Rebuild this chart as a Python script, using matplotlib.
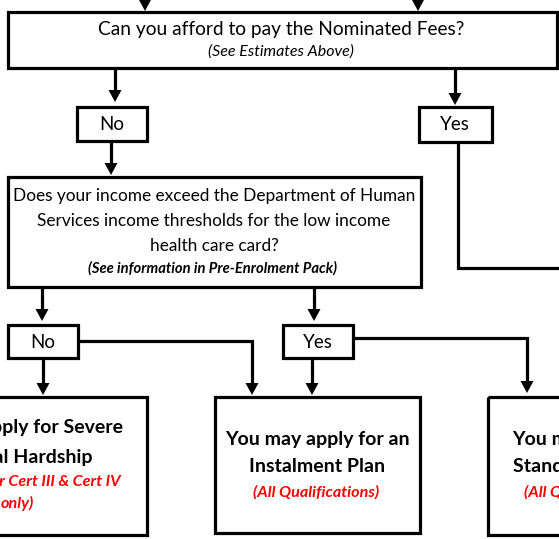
import matplotlib
matplotlib.use("Agg")
import matplotlib.pyplot as plt
from matplotlib.patches import Rectangle, Polygon

# ---- content ----
box_names = ["top", "no1", "yes1", "q2", "no2", "yes2", "left", "mid", "right"]
box_x0 = [8, 77, 419, 8, 8, 283, -20, 215, 488]
box_y0 = [12, 107, 107, 177, 325, 325, 397, 397, 397]
box_x1 = [557, 147, 492, 421, 78, 353, 147, 420, 620]
box_y1 = [68, 141, 142, 287, 358, 358, 535, 533, 535]

FONT = ["Lato", "DejaVu Sans"]
LW = 2.3
W, H = 559, 539

fig = plt.figure(figsize=(W / 100, H / 100), dpi=100)
ax = fig.add_axes([0, 0, 1, 1])
ax.set_xlim(0, W)
ax.set_ylim(H, 0)
ax.axis("off")

for x0, y0, x1, y1 in zip(box_x0, box_y0, box_x1, box_y1):
    ax.add_patch(Rectangle((x0, y0), x1 - x0, y1 - y0, fill=False, ec="black",
                           lw=LW, joinstyle="miter"))


def line(xs, ys):
    ax.plot(xs, ys, color="black", lw=LW, solid_capstyle="butt",
            solid_joinstyle="miter")


def arrow(xs, ys):
    hl, hw = 12, 6.5
    ys2 = list(ys)
    ys2[-1] = ys[-1] - hl + 1
    line(xs, ys2)
    x = xs[-1]
    t = ys[-1]
    ax.add_patch(Polygon([(x - hw, t - hl), (x + hw, t - hl), (x, t)],
                         closed=True, color="black", lw=0))


arrow([145, 145], [-5, 11])
arrow([418, 418], [-5, 11])
arrow([115, 115], [68, 102])
arrow([111, 111], [141, 175])
arrow([455, 455], [68, 105])
line([458, 458, 565], [142, 268, 268])
arrow([42, 42], [287, 321])
arrow([314, 314], [287, 321])
arrow([43, 43], [358, 395])
arrow([78, 252, 252], [341, 341, 395])
arrow([312, 312], [358, 395])
arrow([353, 527, 527], [338, 338, 393])


def txt(x, y, s, size, color="black", weight="normal", style="normal"):
    ax.text(x, y, s, ha="center", va="center", fontsize=size, color=color,
            fontweight=weight, fontstyle=style, family=FONT, clip_on=True)


txt(281, 30, "Can you afford to pay the Nominated Fees?", 13.8)
txt(281, 52, "(See Estimates Above)", 11.5, style="italic")
txt(112, 124, "No", 13.5)
txt(455, 124, "Yes", 13.5)
txt(214, 196, "Does your income exceed the Department of Human", 12.4)
txt(214, 221, "Services income thresholds for the low income", 12.4)
txt(214, 246, "health care card?", 12.4)
txt(213, 268, "(See information in Pre-Enrolment Pack)", 10.6, weight="bold", style="italic")
txt(43, 342, "No", 13.5)
txt(318, 342, "Yes", 13.5)

red = "#ff0000"
txt(12, 428, "You may apply for Severe", 14, weight="bold")
txt(12, 457, "Financial Hardship", 14, weight="bold")
txt(17, 481, "(Available for Cert III & Cert IV", 11.6, color=red, weight="bold", style="italic")
txt(17, 503, "only)", 11.6, color=red, weight="bold", style="italic")

txt(317, 439, "You may apply for an", 14, weight="bold")
txt(317, 467, "Instalment Plan", 14, weight="bold")
txt(316, 492, "(All Qualifications)", 11.6, color=red, weight="bold", style="italic")

txt(592, 439, "You may apply for", 14, weight="bold")
txt(592, 467, "Standard Fee Plan", 14, weight="bold")
txt(587, 492, "(All Qualifications)", 11.6, color=red, weight="bold", style="italic")

fig.savefig("out.png", dpi=100)
